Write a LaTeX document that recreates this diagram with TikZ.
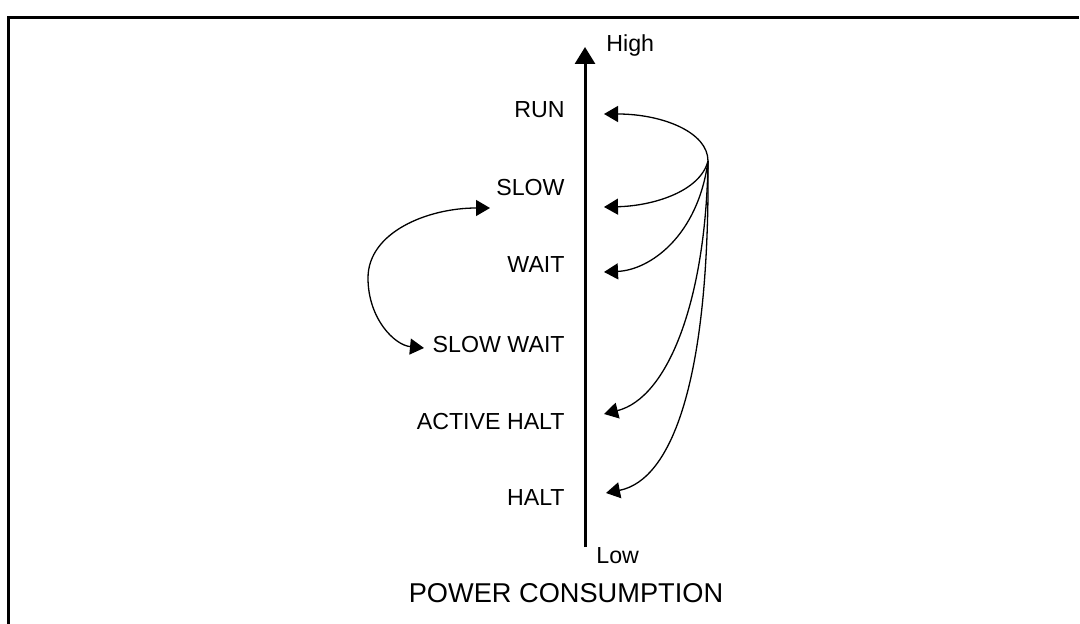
\documentclass[tikz,border=0pt]{standalone}
\usepackage{fontspec}
\setmainfont{Liberation Sans}
\usetikzlibrary{arrows.meta}
\tikzset{
  >={Triangle[length=7pt,width=8pt]},
  mode/.style={anchor=east, inner sep=0pt, font=\fontsize{11.6}{14}\selectfont},
  level/.style={inner sep=0pt, font=\fontsize{11.6}{14}\selectfont},
  trans/.style={draw, line width=0.65pt, ->},
  axis/.style={draw, line width=1.5pt, -{Triangle[length=8.5pt,width=10pt]}}
}

\begin{document}
\begin{tikzpicture}[x=0.5pt,y=-0.5pt]
    \useasboundingbox (0,0) rectangle (1080,624);
    % Frame
    \draw [line width=1.5pt] (8,624) -- (8,18) -- (1079,18);
    % Draw axis
    \coordinate (bottom) at (585,547);
    \coordinate (top) at (585,47);
    \draw [axis] (bottom) -- (top);
    \node (high) [level, anchor=base west] at (606,52) {High};
    \node (low) [level, anchor=base west] at (596,563) {Low};
    \node (power) [inner sep=0pt, anchor=base, font=\fontsize{13.6}{16}\selectfont] at (566,602) {POWER CONSUMPTION};
    % Modes
    \node (run) [mode] at (565,110) {RUN};
    \node (slow) [mode] at (565,188) {SLOW};
    \node (wait) [mode] at (565,265) {WAIT};
    \node (slowwait) [mode] at (565,345) {SLOW WAIT};
    \node (activehalt) [mode] at (565,422) {ACTIVE HALT};
    \node (halt) [mode] at (565,498) {HALT};
    % Arrow ends
    \coordinate (src) at (708,161);
    \coordinate (loop) at (368,278);
    \coordinate (runin) at (604,114);
    \coordinate (slowin) at (604,207);
    \coordinate (waitin) at (604,272);
    \coordinate (activein) at (604,414);
    \coordinate (haltin) at (606,493);
    \coordinate (slowleft) at (490,208);
    \coordinate (slowwaitleft) at (424,348);
    % Transitions
    \draw [trans] (src) .. controls (708,132) and (662,114) .. (runin);
    \draw [trans] (src) .. controls (700,192) and (652,206) .. (slowin);
    \draw [trans] (src) .. controls (698,236) and (650,270) .. (waitin);
    \draw [trans] (src) .. controls (706,300) and (668,398) .. (activein);
    \draw [trans] (src) .. controls (710,380) and (672,480) .. (haltin);
    \draw [trans] (loop) .. controls (368,232) and (428,208) .. (slowleft);
    \draw [trans] (loop) .. controls (368,318) and (394,345) .. (slowwaitleft);
\end{tikzpicture}
\end{document}
